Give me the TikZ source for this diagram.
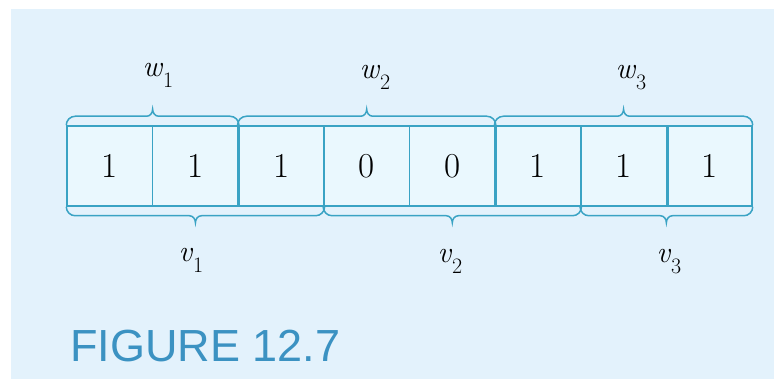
\documentclass[tikz,border=0pt]{standalone}
\usepackage{fontspec}
\usetikzlibrary{calc}
\newfontfamily\capfont{Liberation Sans}
\definecolor{bgc}{HTML}{E3F2FC}
\definecolor{cellfill}{HTML}{EAF8FE}
\definecolor{linec}{HTML}{3AA3C4}
\definecolor{capc}{HTML}{3B92C2}
\newcommand\sublab[2]{\textit{#1}\raisebox{-0.36em}{\fontsize{22}{24}\selectfont #2}}
\newcommand\upbrace[2]{%
  \draw[bracepath] let \p1=(#1), \p2=(#2), \n1={(\x1+\x2)/2} in
    (\x1,\y1) to[out=90,in=180] (\x1+9,\y1+9) -- (\n1-6,\y1+9)
    to[out=0,in=-90] (\n1,\y1+16) to[out=-90,in=180] (\n1+6,\y1+9)
    -- (\x2-9,\y1+9) to[out=0,in=90] (\x2,\y1);}
\newcommand\downbrace[2]{%
  \draw[bracepath] let \p1=(#1), \p2=(#2), \n1={(\x1+\x2)/2} in
    (\x1,\y1) to[out=-90,in=180] (\x1+9,\y1-9) -- (\n1-6,\y1-9)
    to[out=0,in=90] (\n1,\y1-16) to[out=90,in=180] (\n1+6,\y1-9)
    -- (\x2-9,\y1-9) to[out=0,in=-90] (\x2,\y1);}
\begin{document}
\begin{tikzpicture}[x=1pt,y=1pt,
  cellbox/.style={draw=linec, line width=1.5pt, fill=cellfill,
    minimum width=85.6pt, minimum height=80pt, inner sep=0pt,
    font=\fontsize{35}{40}\selectfont},
  bracepath/.style={draw=linec, line width=1.5pt},
  sepline/.style={draw=linec, line width=3pt},
  lab/.style={font=\fontsize{30}{34}\selectfont, anchor=base, inner sep=0pt},
  captext/.style={font=\capfont\fontsize{45}{50}\selectfont, text=capc,
    anchor=base west, inner sep=0pt}]
\useasboundingbox (0,0) rectangle (774,379);
\fill[bgc] (11,0) rectangle (774,370);
\foreach \v [count=\i from 0] in {1,1,1,0,0,1,1,1}
  \node[cellbox] (c\i) at ({67+85.625*(\i+0.5)},213) {\v};
\foreach \i in {1,4,6}
  \draw[sepline] (c\i.north east) -- (c\i.south east);
\upbrace{c0.north west}{c1.north east}
\upbrace{c2.north west}{c4.north east}
\upbrace{c5.north west}{c7.north east}
\downbrace{c0.south west}{c2.south east}
\downbrace{c3.south west}{c5.south east}
\downbrace{c6.south west}{c7.south east}
\node[lab] (w1) at (158,302) {\sublab{w}{1}};
\node[lab] (w2) at (375,300) {\sublab{w}{2}};
\node[lab] (w3) at (631,300) {\sublab{w}{3}};
\node[lab] (v1) at (191,117) {\sublab{v}{1}};
\node[lab] (v2) at (450,116) {\sublab{v}{2}};
\node[lab] (v3) at (669,116) {\sublab{v}{3}};
\node[captext] (cap) at (70,17) {FIGURE 12.7};
\end{tikzpicture}
\end{document}
